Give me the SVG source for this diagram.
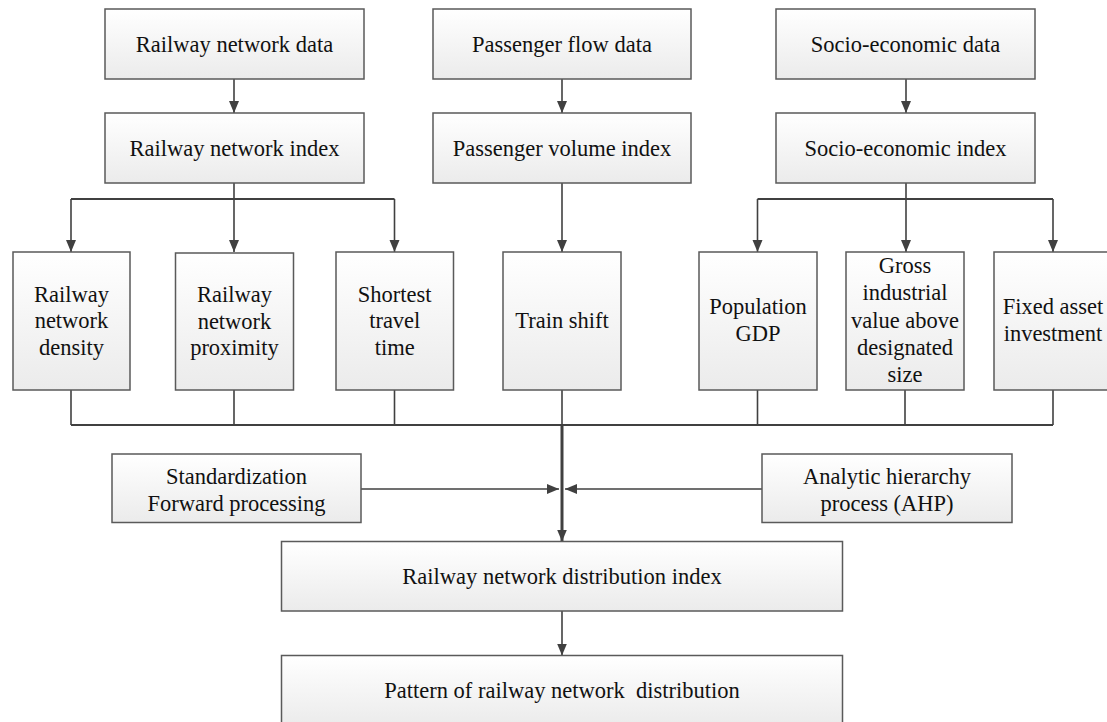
<svg xmlns="http://www.w3.org/2000/svg" width="1107" height="722" viewBox="0 0 1107 722">
<defs>
<linearGradient id="g" x1="0" y1="0" x2="0" y2="1">
<stop offset="0" stop-color="#ffffff"/>
<stop offset="1" stop-color="#ebebeb"/>
</linearGradient>
<marker id="ah" markerUnits="userSpaceOnUse" markerWidth="12" markerHeight="12" viewBox="0 0 12 12" refX="12" refY="6" orient="auto">
<path d="M0,1 L12,6 L0,11 Z" fill="#404040"/>
</marker>
</defs>
<style>
.box{fill:url(#g);stroke:#5a5a5a;stroke-width:1.5}
.t{font-family:"Liberation Serif","Times New Roman",serif;font-size:22.5px;fill:#111111;text-anchor:middle}
.c{fill:none;stroke:#404040;stroke-width:1.6}
.ca{fill:none;stroke:#404040;stroke-width:1.6;marker-end:url(#ah)}
</style>
<rect width="1107" height="722" fill="#ffffff"/>
<g id="connectors">
<line class="ca" x1="234" y1="79" x2="234" y2="113"/>
<line class="ca" x1="562" y1="79" x2="562" y2="113"/>
<line class="ca" x1="906" y1="79" x2="906" y2="113"/>
<line class="c" x1="234" y1="183" x2="234" y2="199"/>
<line class="c" x1="71" y1="199" x2="394.5" y2="199" style="stroke-width:2"/>
<line class="ca" x1="71" y1="199" x2="71" y2="252"/>
<line class="ca" x1="234" y1="199" x2="234" y2="252"/>
<line class="ca" x1="394.5" y1="199" x2="394.5" y2="252"/>
<line class="ca" x1="562" y1="183" x2="562" y2="252"/>
<line class="c" x1="906" y1="183" x2="906" y2="199"/>
<line class="c" x1="757.5" y1="199" x2="1053" y2="199" style="stroke-width:2"/>
<line class="ca" x1="757.5" y1="199" x2="757.5" y2="252"/>
<line class="ca" x1="906" y1="199" x2="906" y2="252"/>
<line class="ca" x1="1053" y1="199" x2="1053" y2="252"/>
<line class="c" x1="71" y1="390" x2="71" y2="425"/>
<line class="c" x1="234" y1="390" x2="234" y2="425"/>
<line class="c" x1="394.5" y1="390" x2="394.5" y2="425"/>
<line class="c" x1="562" y1="390" x2="562" y2="425"/>
<line class="c" x1="757.5" y1="390" x2="757.5" y2="425"/>
<line class="c" x1="905" y1="390" x2="905" y2="425"/>
<line class="c" x1="1053" y1="390" x2="1053" y2="425"/>
<line class="c" x1="71" y1="425" x2="1053" y2="425" style="stroke-width:2.2"/>
<line class="ca" x1="562" y1="424" x2="562" y2="541.5" style="stroke-width:3"/>
<line class="ca" x1="361" y1="489" x2="559" y2="489"/>
<line class="ca" x1="762" y1="489" x2="565" y2="489"/>
<line class="ca" x1="562" y1="611" x2="562" y2="655.5"/>
</g>
<g id="n1"><rect class="box" x="105" y="9" width="259" height="70"/><text class="t" x="234.5" y="51.5">Railway network data</text></g>
<g id="n2"><rect class="box" x="433" y="9" width="258" height="70"/><text class="t" x="562" y="51.5">Passenger flow data</text></g>
<g id="n3"><rect class="box" x="776" y="9" width="259" height="70"/><text class="t" x="905.5" y="51.5">Socio-economic data</text></g>
<g id="n4"><rect class="box" x="105" y="113" width="259" height="70"/><text class="t" x="234.5" y="155.5">Railway network index</text></g>
<g id="n5"><rect class="box" x="433" y="113" width="258" height="70"/><text class="t" x="562" y="155.5">Passenger volume index</text></g>
<g id="n6"><rect class="box" x="776" y="113" width="259" height="70"/><text class="t" x="905.5" y="155.5">Socio-economic index</text></g>
<g id="n7"><rect class="box" x="13" y="252" width="117" height="138"/><text class="t" x="71.5" y="301.5"><tspan x="71.5">Railway</tspan><tspan x="71.5" dy="26.5">network</tspan><tspan x="71.5" dy="26.5">density</tspan></text></g>
<g id="n8"><rect class="box" x="175.5" y="253" width="118" height="137"/><text class="t" x="234.5" y="302"><tspan x="234.5">Railway</tspan><tspan x="234.5" dy="26.5">network</tspan><tspan x="234.5" dy="26.5">proximity</tspan></text></g>
<g id="n9"><rect class="box" x="336" y="252" width="117.5" height="138"/><text class="t" x="394.75" y="301.5"><tspan x="394.75">Shortest</tspan><tspan x="394.75" dy="26.5">travel</tspan><tspan x="394.75" dy="26.5">time</tspan></text></g>
<g id="n10"><rect class="box" x="503" y="252" width="118" height="138"/><text class="t" x="562" y="328">Train shift</text></g>
<g id="n11"><rect class="box" x="699" y="252" width="118" height="138"/><text class="t" x="758" y="314"><tspan x="758">Population</tspan><tspan x="758" dy="27">GDP</tspan></text></g>
<g id="n12"><rect class="box" x="846" y="252" width="118" height="138"/><text class="t" x="905" y="273"><tspan x="905">Gross</tspan><tspan x="905" dy="27.3">industrial</tspan><tspan x="905" dy="27.3">value above</tspan><tspan x="905" dy="27.3">designated</tspan><tspan x="905" dy="27.3">size</tspan></text></g>
<g id="n13"><rect class="box" x="994" y="252" width="118" height="138"/><text class="t" x="1053" y="314"><tspan x="1053">Fixed asset</tspan><tspan x="1053" dy="27">investment</tspan></text></g>
<g id="n14"><rect class="box" x="112" y="454" width="249" height="68.5"/><text class="t" x="236.5" y="484"><tspan x="236.5">Standardization</tspan><tspan x="236.5" dy="27">Forward processing</tspan></text></g>
<g id="n15"><rect class="box" x="762" y="454" width="250" height="68.5"/><text class="t" x="887" y="484"><tspan x="887">Analytic hierarchy</tspan><tspan x="887" dy="27">process (AHP)</tspan></text></g>
<g id="n16"><rect class="box" x="281.5" y="541.5" width="561" height="69.5"/><text class="t" x="562" y="584">Railway network distribution index</text></g>
<g id="n17"><rect class="box" x="281.5" y="655.5" width="561" height="70"/><text class="t" x="562" y="697.5" xml:space="preserve">Pattern of railway network  distribution</text></g>
</svg>
